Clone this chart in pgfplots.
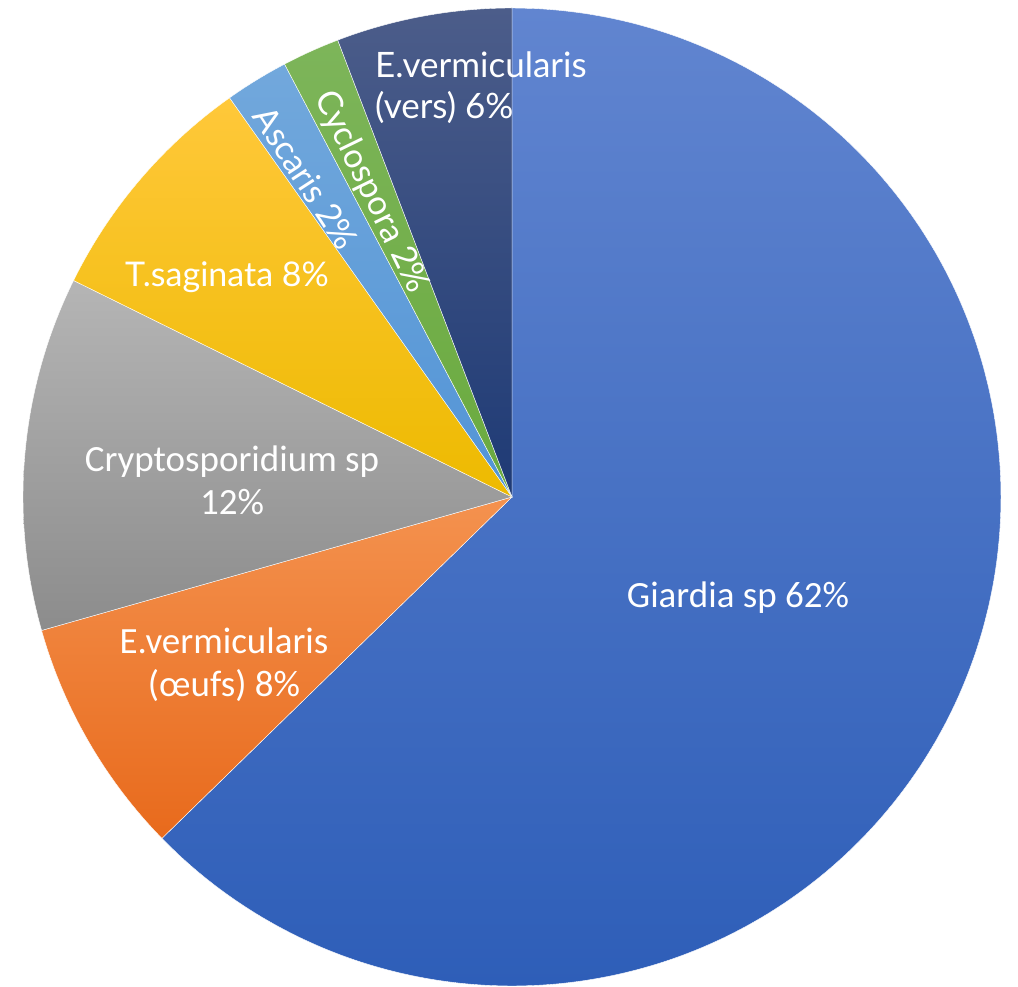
\documentclass[border=0pt]{standalone}
\usepackage{pgfplots}
\pgfplotsset{compat=1.18}
\usepackage{fontspec}
\setmainfont{Carlito}
\newfontfamily\gill{Lato}

% values (percent), clockwise from 12 o'clock
\def\vGiardia{62.7}
\def\vOeufs{7.9}
\def\vCrypto{11.7}
\def\vTsag{7.9}
\def\vAscaris{2.1}
\def\vCyclo{1.9}
\def\vVers{5.8}

\definecolor{bluet}{HTML}{6185D0}\definecolor{blueb}{HTML}{2E5EB8}
\definecolor{orat}{HTML}{F4924F}\definecolor{orab}{HTML}{E86A1C}
\definecolor{grat}{HTML}{B5B5B5}\definecolor{grab}{HTML}{8C8C8C}
\definecolor{yelt}{HTML}{FFC83A}\definecolor{yelb}{HTML}{EDBA00}
\definecolor{lbt}{HTML}{72A8DC}\definecolor{lbb}{HTML}{5294D6}
\definecolor{grnt}{HTML}{7DB55A}\definecolor{grnb}{HTML}{6AAA3E}
\definecolor{dbt}{HTML}{4C5D8A}\definecolor{dbb}{HTML}{1E3A75}

\newcommand\slice[4]{%
  \addplot[draw=white, line width=0.4pt, top color=#3, bottom color=#4, domain=#1:#2, samples=80, smooth]
    ({512+489*cos(x)},{490+489*sin(x)}) -- (axis cs:512,490) -- cycle;}

\begin{document}
\begin{tikzpicture}
\pgfmathsetmacro\aA{90}
\pgfmathsetmacro\aB{90-3.6*\vGiardia}
\pgfmathsetmacro\aC{\aB-3.6*\vOeufs}
\pgfmathsetmacro\aD{\aC-3.6*\vCrypto}
\pgfmathsetmacro\aE{\aD-3.6*\vTsag}
\pgfmathsetmacro\aF{\aE-3.6*\vAscaris}
\pgfmathsetmacro\aG{\aF-3.6*\vCyclo}
\pgfmathsetmacro\aH{\aG-3.6*\vVers}
\begin{axis}[width=1018pt, height=987pt, scale only axis,
  xmin=0, xmax=1018, ymin=0, ymax=987, hide axis, clip=false]
\path (axis cs:0,0) rectangle (axis cs:1018,987);
\slice{\aB}{\aA}{bluet}{blueb}
\slice{\aC}{\aB}{orat}{orab}
\slice{\aD}{\aC}{grat}{grab}
\slice{\aE}{\aD}{yelt}{yelb}
\slice{\aF}{\aE}{lbt}{lbb}
\slice{\aG}{\aF}{grnt}{grnb}
\slice{\aH}{\aG}{dbt}{dbb}

\begin{scope}[every node/.style={text=white, font=\fontsize{37}{43}\selectfont}]
\node at (axis cs:738,389) {Giardia sp 62\%};
\node[align=center] at (axis cs:232,507) {Cryptosporidium sp\\12\%};
\node[align=center] at (axis cs:224,322) {E.vermicularis\\(œufs) 8\%};
\node[font=\gill\fontsize{34}{41}\selectfont] at (axis cs:227,710) {T.saginata 8\%};
\node[rotate=-57, font=\gill\fontsize{34}{41}\selectfont] at (axis cs:306,809) {Ascaris 2\%};
\node[rotate=-64, font=\gill\fontsize{34}{41}\selectfont] at (axis cs:371,795) {Cyclospora 2\%};
\node[align=left, anchor=west, inner sep=0pt, font=\gill\fontsize{35}{41}\selectfont] at (axis cs:375,899) {E.vermicularis\\(vers) 6\%};
\end{scope}
\end{axis}
\end{tikzpicture}
\end{document}
